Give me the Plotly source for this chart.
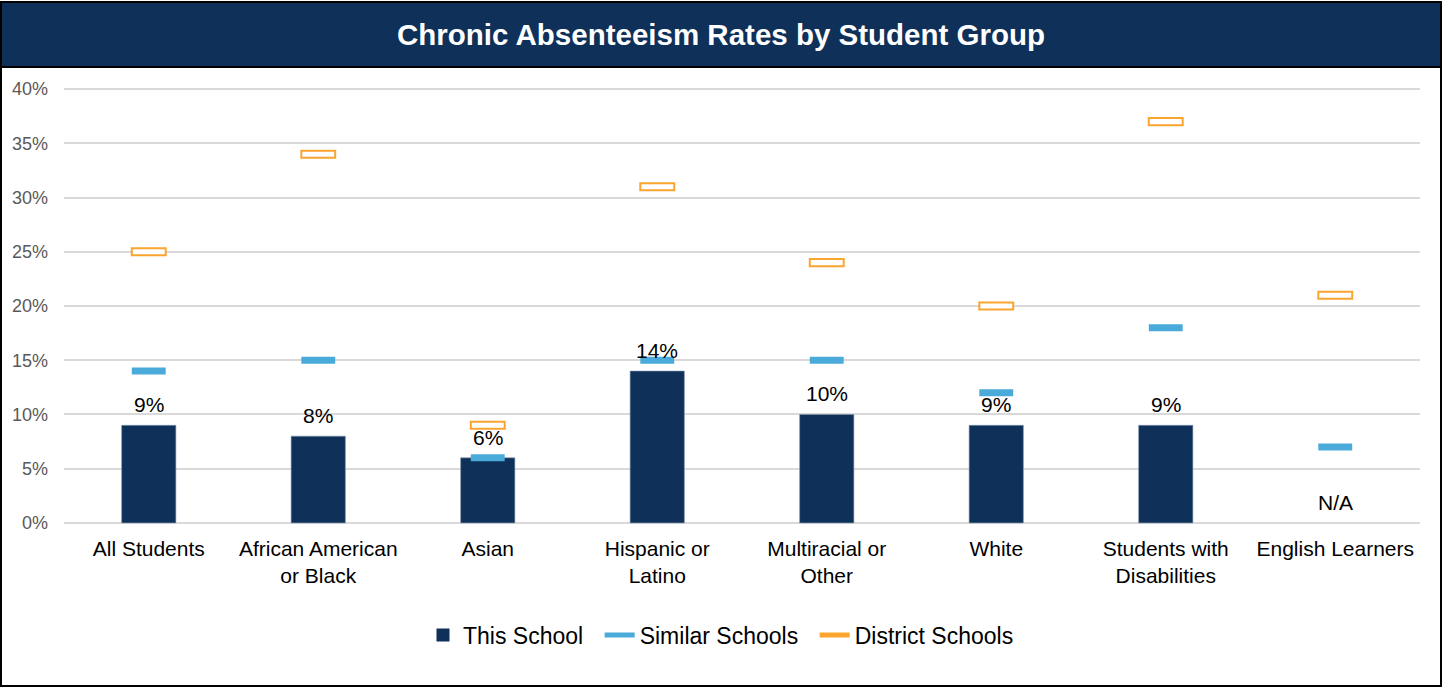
import plotly.graph_objects as go

W, H = 1442, 687
NAVY = "#0E3059"
BLUE = "#4AABDB"
ORANGE = "#FBA531"
GRID = "#D9D9D9"

categories = [
    "All Students",
    "African American<br>or Black",
    "Asian",
    "Hispanic or<br>Latino",
    "Multiracial or<br>Other",
    "White",
    "Students with<br>Disabilities",
    "English Learners",
]
this_school = [9, 8, 6, 14, 10, 9, 9, None]
similar_schools = [14, 15, 6, 15, 15, 12, 18, 7]
district_schools = [25, 34, 9, 31, 24, 20, 37, 21]
y_ticks = [0, 5, 10, 15, 20, 25, 30, 35, 40]

# plot area in pixels
L, R, T, B = 64, 22, 88, 163
PW, PH = W - L - R, H - T - B


def px_x(x):
    return (x - L) / PW


def px_y(y):
    return (H - B - y) / PH


MARK_H = 0.65

fig = go.Figure()
fig.add_trace(go.Bar(
    x=categories, y=this_school, width=0.32, name="This School",
    marker=dict(color=NAVY, line=dict(color="#8497B0", width=0.6)),
    showlegend=False, hoverinfo="skip",
))
fig.add_trace(go.Bar(
    x=categories, y=[MARK_H] * len(categories),
    base=[v - MARK_H / 2 for v in similar_schools], width=0.2,
    name="Similar Schools", marker=dict(color=BLUE, line=dict(width=0)),
    showlegend=False, hoverinfo="skip",
))
fig.add_trace(go.Bar(
    x=categories, y=[MARK_H] * len(categories),
    base=[v - MARK_H / 2 for v in district_schools], width=0.2,
    name="District Schools",
    marker=dict(color="white", line=dict(color=ORANGE, width=2)),
    showlegend=False, hoverinfo="skip",
))

# legend proxies
fig.add_trace(go.Scatter(x=[None], y=[None], mode="markers", name="This School\u2002",
                         marker=dict(symbol="square", size=13, color=NAVY)))
fig.add_trace(go.Scatter(x=[None], y=[None], mode="lines", name="Similar Schools\u2002",
                         line=dict(color=BLUE, width=5)))
fig.add_trace(go.Scatter(x=[None], y=[None], mode="lines", name="District Schools",
                         line=dict(color=ORANGE, width=5)))

for cat, v in zip(categories, this_school):
    fig.add_annotation(
        x=cat, y=v if v is not None else 0,
        text=f"{v}%" if v is not None else "N/A",
        showarrow=False, yanchor="bottom", yshift=7,
        font=dict(size=21, color="#000000"),
    )

shapes = [
    # title banner
    dict(type="rect", xref="paper", yref="paper", layer="below",
         x0=px_x(1), x1=px_x(W - 1), y0=px_y(67), y1=px_y(2),
         fillcolor=NAVY, line=dict(width=0)),
    dict(type="line", xref="paper", yref="paper",
         x0=px_x(1), x1=px_x(W - 1), y0=px_y(67), y1=px_y(67),
         line=dict(color="#000000", width=2)),
    # outer border
    dict(type="rect", xref="paper", yref="paper",
         x0=px_x(1), x1=px_x(W - 1), y0=px_y(H - 1), y1=px_y(2),
         line=dict(color="#000000", width=2)),
]

fig.update_layout(
    width=W, height=H,
    barmode="overlay",
    plot_bgcolor="white", paper_bgcolor="white",
    font=dict(family="Liberation Sans, Arial, sans-serif", color="#000000"),
    margin=dict(l=L, r=R, t=T, b=B, pad=0),
    title=dict(text="<b>Chronic Absenteeism Rates by Student Group</b>",
               font=dict(size=29.5, color="white"),
               x=0.5, xanchor="center", xref="container",
               y=1 - 35 / H, yanchor="middle", yref="container"),
    shapes=shapes,
    showlegend=True,
    legend=dict(orientation="h", x=px_x(W / 2), xanchor="center",
                y=px_y(635), yanchor="middle",
                font=dict(size=23, color="#000000"),
                itemwidth=30, tracegroupgap=0),
    hovermode=False,
)
fig.update_xaxes(
    showgrid=False, zeroline=False, showline=False, ticks="",
    tickfont=dict(size=21, color="#000000"), ticklabelstandoff=10,
)
fig.update_yaxes(
    range=[-0.1, 40.1], tickmode="array", tickvals=y_ticks,
    ticktext=[f"{t}%" for t in y_ticks],
    showgrid=True, gridcolor=GRID, gridwidth=1.5, zeroline=False,
    tickfont=dict(size=18, color="#595959"), ticklabelstandoff=15,
)

fig.write_html("out.html", config={"displayModeBar": False},
               post_script="document.body.style.margin='0';")
